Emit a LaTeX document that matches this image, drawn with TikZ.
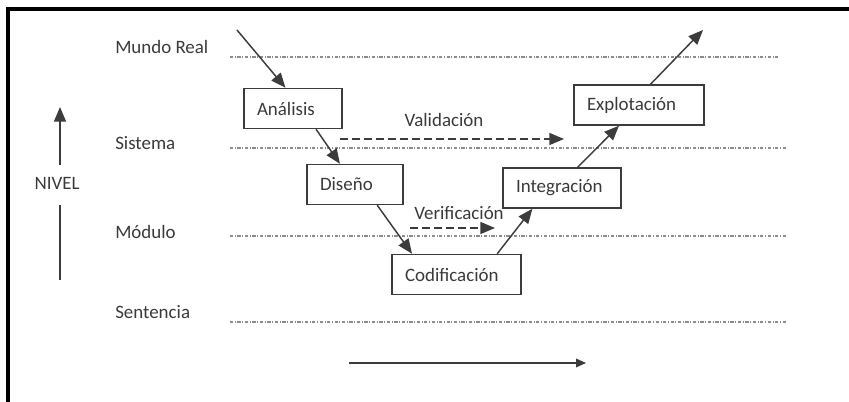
\documentclass[tikz,border=0pt]{standalone}
\usepackage{fontspec}
\setmainfont{Carlito}
\usetikzlibrary{arrows.meta}
\definecolor{Texto}{HTML}{3A3A3A}
\definecolor{Borde}{HTML}{3C3C3C}
\definecolor{Nivel}{HTML}{8C8C8C}

\begin{document}
\begin{tikzpicture}[x=0.75pt,y=-0.75pt,
    font=\fontsize{14.2}{16}\selectfont,
    fase/.style={draw=Borde,line width=1.1pt,fill=white,text=Texto,
      inner xsep=9.75pt,minimum height=30pt,align=left},
    etiqueta/.style={text=Texto,anchor=west,inner sep=0pt},
    linea/.style={Nivel,line width=0.9pt,
      dash pattern=on 2.5pt off 1.2pt on 0.7pt off 1.2pt},
    flecha/.style={Borde,line width=1.1pt,-{Triangle[length=11pt,width=9pt]}},
    prueba/.style={flecha,dash pattern=on 6pt off 3pt}]
        \useasboundingbox (0,0) rectangle (849,402);
        \draw[black,line width=2.6pt] (8,402) -- (8,9.2) -- (849,9.2);
        % niveles
        \node[etiqueta] (mundo) at (115,47) {Mundo Real};
        \node[etiqueta] (sistema) at (115,143) {Sistema};
        \node[etiqueta] (modulo) at (115,232) {Módulo};
        \node[etiqueta] (sentencia) at (115,312) {Sentencia};
        \draw[linea] (230,57) -- (778,57);
        \draw[linea] (230,148) -- (787,148);
        \draw[linea] (230,236) -- (787,236);
        \draw[linea] (230,322) -- (787,322);
        \node[text=Texto,inner sep=0pt] (nivel) at (57,183) {NIVEL};
        \coordinate (nivelA) at (60,165);
        \coordinate (nivelB) at (60,107);
        \coordinate (nivelC) at (60,205);
        \coordinate (nivelD) at (60,280);
        \draw[flecha] (nivelA) -- (nivelB);
        \draw[Borde,line width=1.1pt] (nivelC) -- (nivelD);
        % fases
        \node[fase,text width=54pt] (ana) at (293,108.5) {Análisis};
        \node[fase,text width=52.5pt] (dis) at (355,184.5) {Diseño};
        \node[fase,text width=77.25pt] (cod) at (456.5,274.5) {Codificación};
        \node[fase,text width=69pt] (int) at (562,188) {Integración};
        \node[fase,text width=78pt] (exp) at (639,105) {Explotación};
        \coordinate (entrada) at (237,30);
        \coordinate (salida) at (703,30);
        \draw[flecha] (entrada) -- (ana.110);
        \draw[flecha] (ana.-42) -- (dis.126);
        \draw[flecha] (dis.-43) -- (cod.155);
        \draw[flecha] (cod.27) -- (int.-145);
        \draw[flecha] (int.53) -- (exp.-134);
        \draw[flecha] (exp.61) -- (salida);
        % pruebas
        \coordinate (valA) at (340,139);
        \coordinate (valB) at (564,139);
        \coordinate (verA) at (410,228);
        \coordinate (verB) at (495,228);
        \node[text=Texto,inner sep=0pt] (val) at (444,120) {Validación};
        \node[text=Texto,inner sep=0pt] (ver) at (459,213) {Verificación};
        \draw[prueba] (valA) -- (valB);
        \draw[prueba] (verA) -- (verB);
        % tiempo
        \coordinate (tiempoA) at (349,363);
        \coordinate (tiempoB) at (586,363);
        \draw[Borde,line width=1.1pt,-{Triangle[length=7.5pt,width=6.5pt]}] (tiempoA) -- (tiempoB);
      \end{tikzpicture}
\end{document}
